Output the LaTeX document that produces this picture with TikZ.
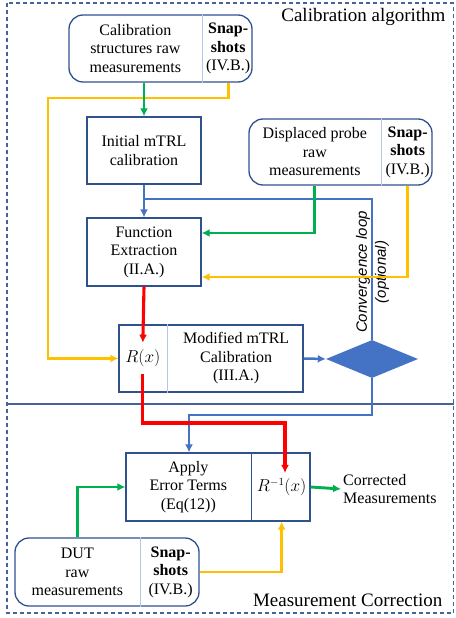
\documentclass[tikz,border=0pt]{standalone}
\usepackage{fontspec}
\setmainfont{Liberation Serif}
\newfontfamily\loopfont{Liberation Sans}
\usetikzlibrary{arrows.meta,shapes.geometric}
\definecolor{boxblue}{HTML}{2F528F}
\definecolor{lineblue}{HTML}{4472C4}
\definecolor{divblue}{HTML}{B4C7E7}
\definecolor{frameblue}{HTML}{44649A}
\definecolor{grn}{HTML}{00B050}
\definecolor{ylw}{HTML}{FFC000}

\begin{document}
\begin{tikzpicture}[x=1pt, y=-1pt, font=\fontsize{16}{18.5}\selectfont,
  box/.style={draw=boxblue, line width=1.3pt, minimum height=67pt, inner sep=0pt, align=center},
  rbox/.style={box, rounded corners=14pt},
  txt/.style={align=center, inner sep=1pt},
  divide/.style={draw=divblue, line width=1pt},
  flow/.style={line width=2.9pt, -{Latex[length=8pt,width=8pt]}},
  link/.style={line width=2.5pt},
  title/.style={anchor=base east, font=\fontsize{19}{22}\selectfont}]
\useasboundingbox (0,0) rectangle (455,618);
% frame
\draw[frameblue, line width=1.4pt, dash pattern=on 4pt off 3pt] (7,3) rectangle (453.5,613);
\draw[frameblue, line width=1.4pt] (7,404) -- (453.5,404);
\node[title] (algtitle) at (449,22) {Calibration algorithm};
\node[title] (corrtitle) at (446,606) {Measurement Correction};

% calibration part
\node[rbox, minimum width=183pt] (calbox) at (160.5,48.5) {};
\node[txt] (caltxt) at ([xshift=67pt]calbox.west) {Calibration\\structures raw\\measurements};
\node[txt] (calsnap) at ([xshift=-24.5pt]calbox.east) {\textbf{Snap-}\\\textbf{shots}\\(IV.B.)};
\draw[divide] ([xshift=134pt]calbox.north west) -- ([xshift=134pt]calbox.south west);

\node[box, minimum width=114pt] (initbox) at (144,150.5) {Initial mTRL\\calibration};

\node[rbox, minimum width=183pt, minimum height=66pt] (dispbox) at (340.5,152) {};
\node[txt] (disptxt) at ([xshift=66.5pt]dispbox.west) {Displaced probe\\raw\\measurements};
\node[txt] (dispsnap) at ([xshift=-25pt]dispbox.east) {\textbf{Snap-}\\\textbf{shots}\\(IV.B.)};
\draw[divide] ([xshift=133pt]dispbox.north west) -- ([xshift=133pt]dispbox.south west);

\node[box, minimum width=114pt, minimum height=68pt] (funcbox) at (144,252) {Function\\Extraction\\(II.A.)};

\node[box, minimum width=184pt] (modbox) at (211,358.5) {};
\node[inner xsep=1pt, inner ysep=7pt] (rx) at ([xshift=24.5pt]modbox.west) {$R(x)$};
\node[txt] (modtxt) at ([xshift=-67.5pt]modbox.east) {Modified mTRL\\Calibration\\(III.A.)};
\draw[divide] ([xshift=49pt]modbox.north west) -- ([xshift=49pt]modbox.south west);

\node[diamond, fill=lineblue, minimum width=92pt, minimum height=38pt, inner sep=0pt] (conv) at (372,359) {};
\node[rotate=90, align=center, font=\loopfont\itshape\fontsize{15}{19}\selectfont] (looptxt) at (372.5,272) {Convergence loop\\(optional)};

% correction part
\node[box, minimum width=184pt, minimum height=68pt] (applybox) at (218,487) {};
\node[txt] (applytxt) at ([xshift=63pt]applybox.west) {Apply\\Error Terms\\(Eq(12))};
\node[inner xsep=1pt, inner ysep=5pt] (rinv) at ([xshift=-29pt]applybox.east) {$R^{-1}(x)$};
\draw[divide, draw=boxblue] ([xshift=126pt]applybox.north west) -- ([xshift=126pt]applybox.south west);
\node[anchor=west, align=left, inner sep=2pt] (corr) at (341,489) {Corrected\\Measurements};

\node[rbox, minimum width=184pt, minimum height=68pt] (dutbox) at (107,572) {};
\node[txt] (duttxt) at ([xshift=63pt]dutbox.west) {DUT\\raw\\measurements};
\node[txt] (dutsnap) at ([xshift=-29pt]dutbox.east) {\textbf{Snap-}\\\textbf{shots}\\(IV.B.)};
\draw[divide] ([xshift=126pt]dutbox.north west) -- ([xshift=126pt]dutbox.south west);

% connectors
\coordinate (loop) at (144,199);
\coordinate (blubend) at (189,415);
\coordinate (redbend) at (285,423);
\coordinate (ylwbend) at (48,98);
\draw[flow, lineblue, line width=2.5pt] (initbox.south) -- (funcbox.north);
\draw[link, lineblue] (conv.north) |- (loop);
\draw[flow, lineblue, line width=2.5pt] (modbox.east) -- (conv.west);
\draw[flow, lineblue, line width=2.5pt] (conv.south) |- (blubend) -- (blubend |- applybox.north);
\draw[flow, red, line width=3.1pt] (funcbox.south) -- (rx.north);
\draw[flow, red, line width=3.1pt] (rx.south) |- (redbend) -- (redbend |- rinv.north);
\draw[flow, ylw] (calbox.south -| calsnap.center) |- (ylwbend) |- (modbox.west);
\draw[flow, ylw] (dispbox.south -| dispsnap.center) |- ([yshift=-25pt]funcbox.east);
\draw[flow, ylw] (dutbox.east) -| (applybox.south -| rinv.center);
\draw[flow, grn] (calbox.south -| initbox.north) -- (initbox.north);
\draw[flow, grn] (dispbox.south -| disptxt.center) |- ([yshift=19pt]funcbox.east);
\draw[flow, grn] (dutbox.north -| duttxt.center) |- (applybox.west);
\draw[flow, grn] (applybox.east) -- (corr.west);
\end{tikzpicture}
\end{document}
